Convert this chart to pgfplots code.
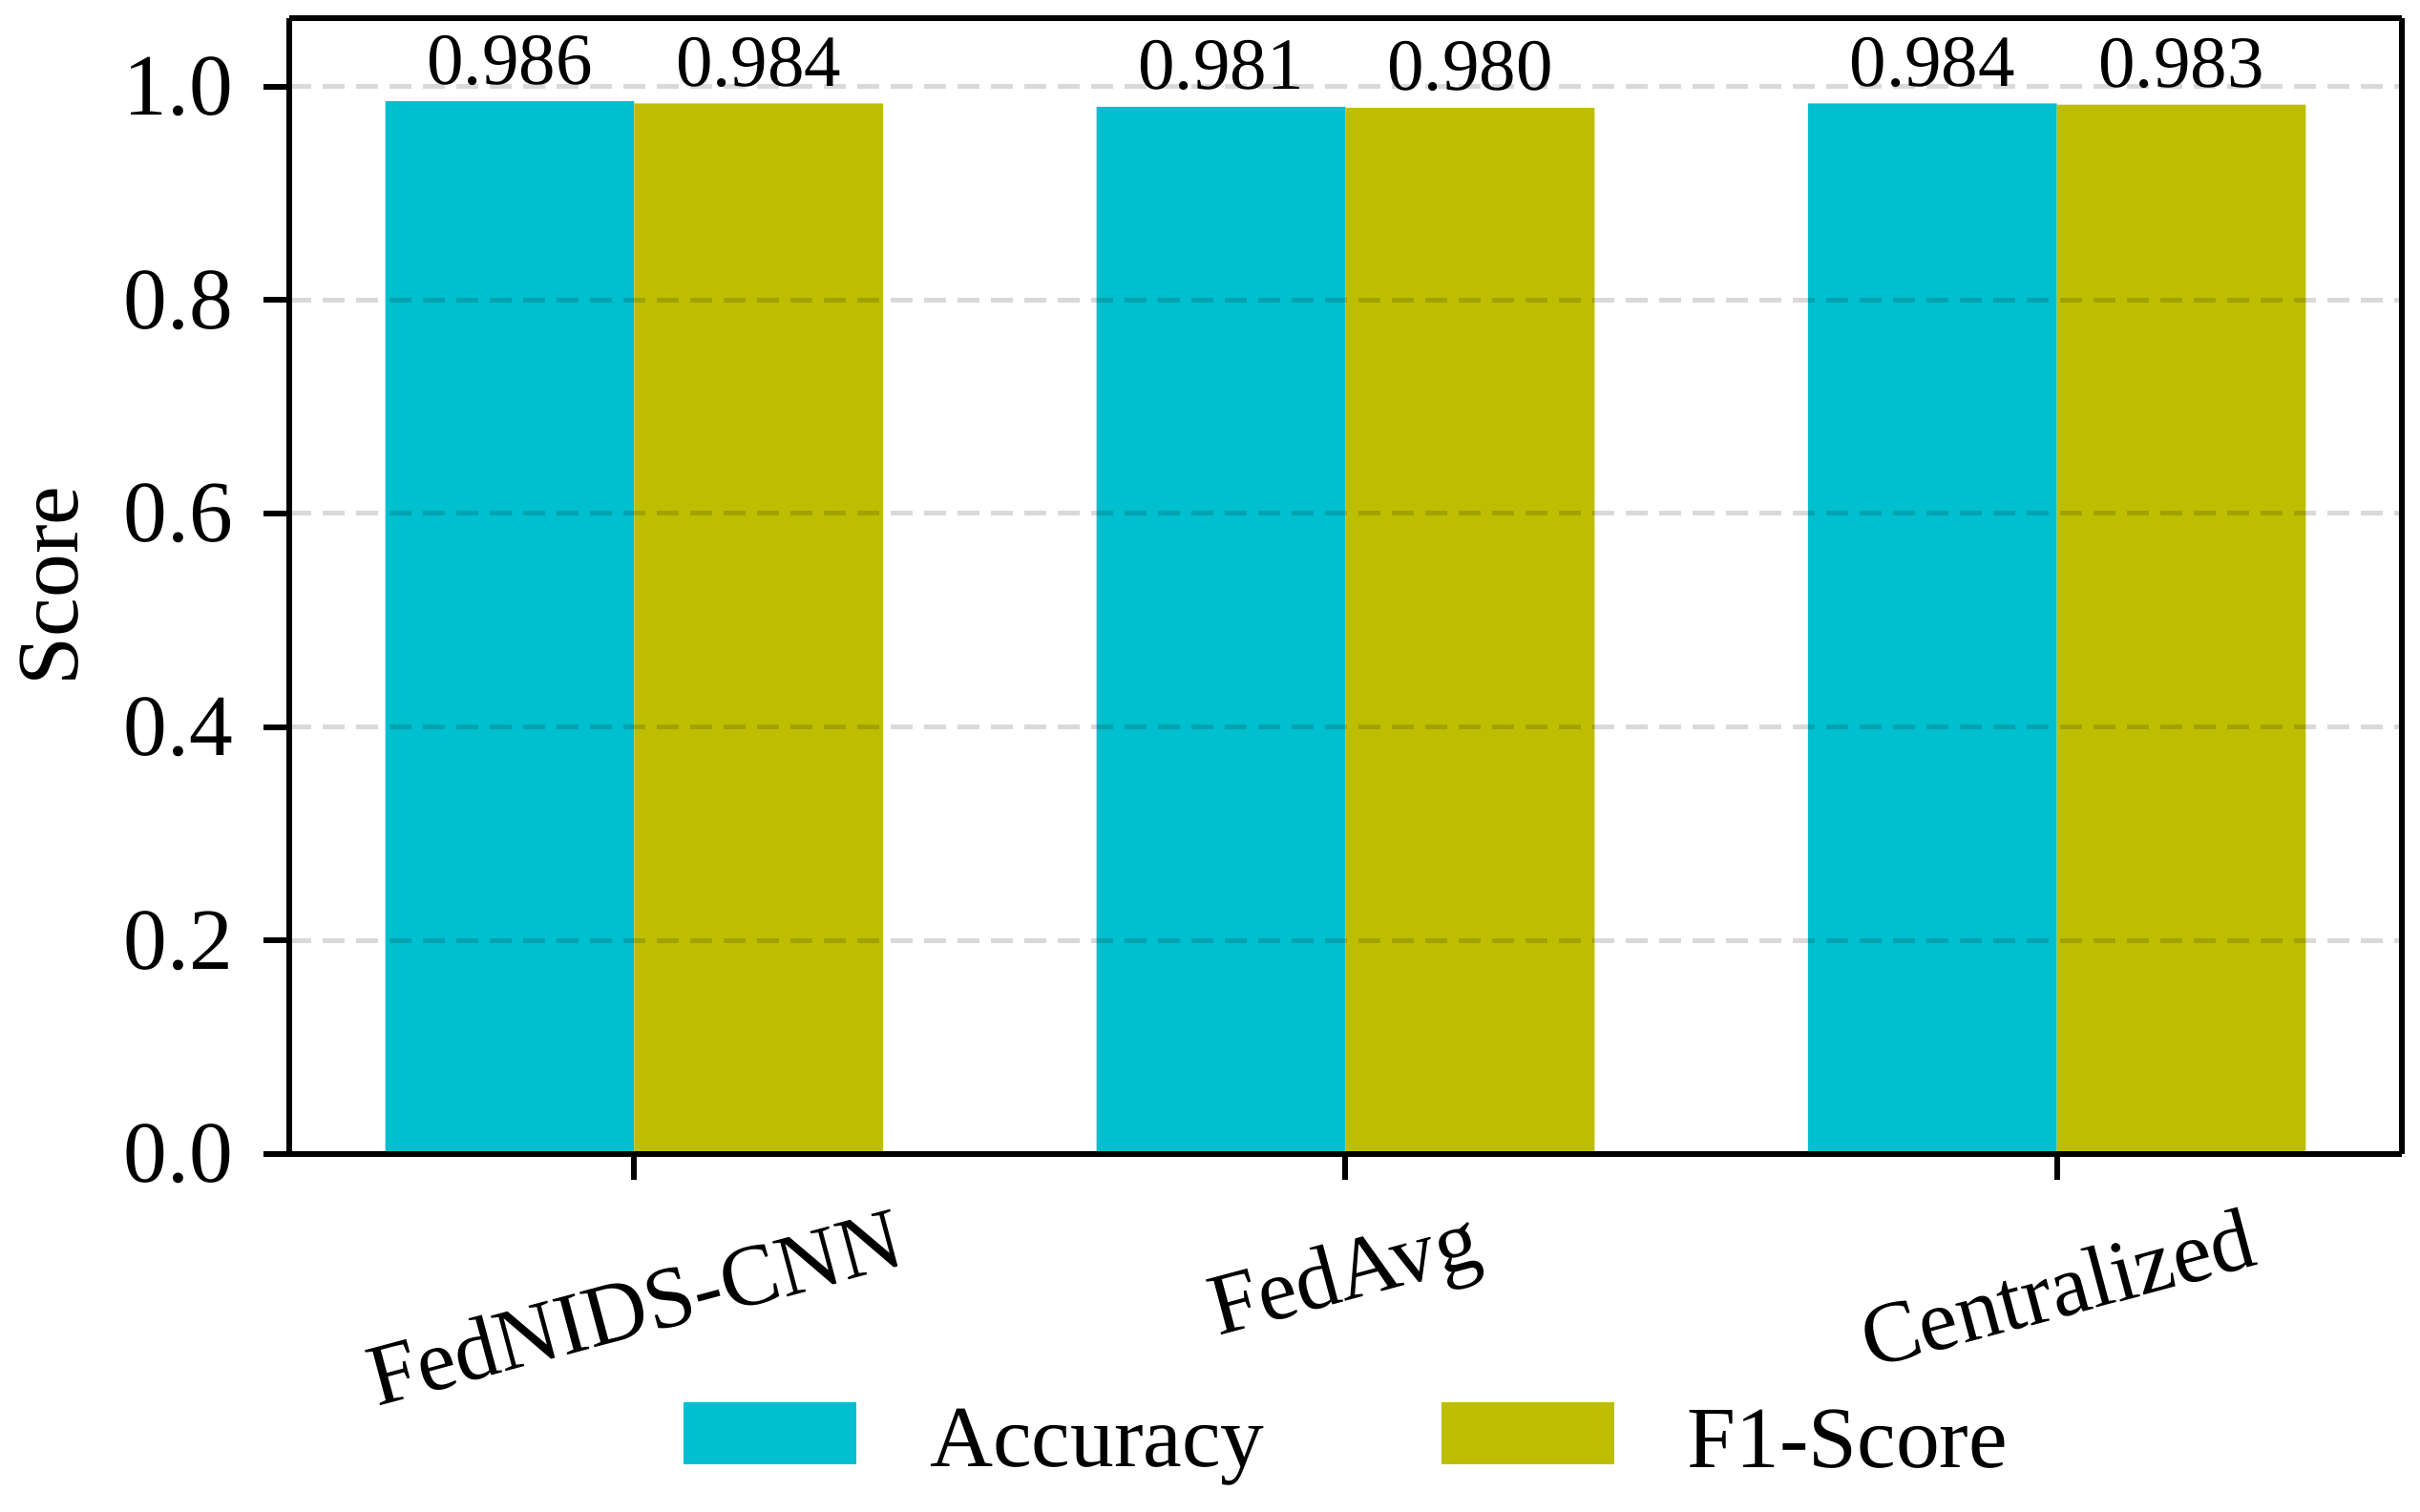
\documentclass[border=0pt]{standalone}
\usepackage{fontspec}
\setmainfont{Liberation Serif}
\usepackage{graphicx}
\usepackage{pgfplots}
\usepackage{pgfplotstable}
\pgfplotsset{compat=1.18}
\definecolor{acc}{HTML}{00BFCF}
\definecolor{fone}{HTML}{BEBE00}

\pgfplotstableread{
x acc f1
0 0.986 0.984
1 0.981 0.980
2 0.984 0.983
}\datatable

\newcommand{\bigf}{\fontsize{18.3}{22}\selectfont}
\newcommand{\smallf}{\fontsize{15.4}{18}\selectfont}

\begin{document}
\begin{tikzpicture}
\begin{axis}[
  scale only axis,
  width=442.6pt, height=238pt,
  xmin=-0.485, xmax=2.485, ymin=0, ymax=1.064,
  enlargelimits=false,
  ybar, bar width=0.35,
  xtick={0,1,2},
  xticklabels={\rotatebox{15}{FedNIDS-CNN},\rotatebox{15}{FedAvg},\rotatebox{15}{Centralized}},
  ytick={0,0.2,0.4,0.6,0.8,1.0},
  yticklabel style={/pgf/number format/fixed, /pgf/number format/fixed zerofill, /pgf/number format/precision=1, /pgf/number format/assume math mode=true},
  tick label style={font=\bigf, inner sep=0pt},
  xticklabel style={anchor=north, yshift=-5.4pt},
  yticklabel style={anchor=east, xshift=-6.3pt},
  tick align=outside, tick pos=left,
  major tick length=5.3pt,
  major tick style={line width=1.2pt, black},
  separate axis lines,
  axis line style={line width=1.2pt, black},
  axis on top,
  ymajorgrids,
  grid style={dash pattern=on 4.6pt off 2.4pt, line width=1pt, black, opacity=0.15},
  ylabel={Score},
  ylabel style={font=\bigf, at={(axis description cs:-0.1134,0.5)}, anchor=center},
  legend columns=2,
  legend style={draw=none, fill=none, font=\bigf, at={(0.5,-0.2504)}, anchor=center,
    nodes={inner sep=0pt},
    /tikz/every odd column/.append style={column sep=15.4pt},
    /tikz/every even column/.append style={column sep=37pt}},
  legend image code/.code={\draw[#1,/tikz/.cd,draw=none] (0pt,-4.8pt) rectangle (36.2pt,8.2pt);},
  nodes near coords={\pgfmathprintnumber[fixed,fixed zerofill,precision=3,assume math mode=true]{\pgfplotspointmeta}},
  nodes near coords style={font=\smallf, inner sep=0pt, anchor=south, yshift=3.2pt, black},
]
\addplot[fill=acc, draw=none, bar shift=-0.175] table[x=x, y=acc] {\datatable};
\addlegendentry{Accuracy}
\addplot[fill=fone, draw=none, bar shift=0.175] table[x=x, y=f1] {\datatable};
\addlegendentry{F1-Score}
\coordinate (SW) at (rel axis cs:0,0);
\coordinate (NE) at (rel axis cs:1,1);
\end{axis}
\pgfresetboundingbox
\useasboundingbox ([shift={(-60.6pt,-74.8pt)}]SW) rectangle ([shift={(3.8pt,3.8pt)}]NE);
\end{tikzpicture}
\end{document}
